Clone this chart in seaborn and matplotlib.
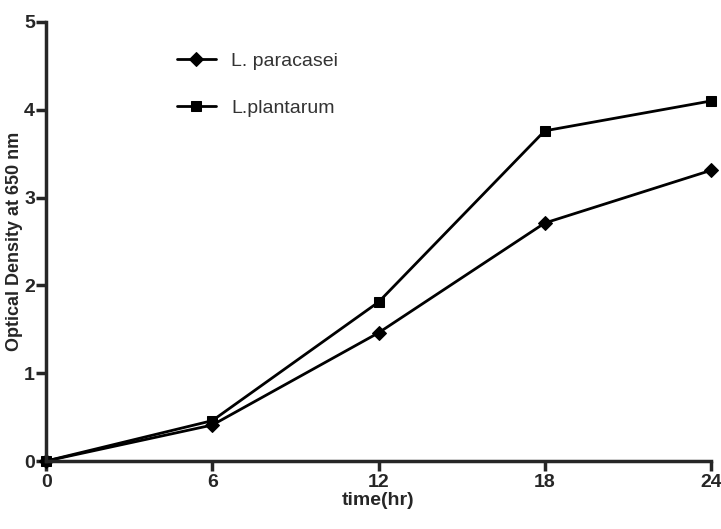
import pandas as pd
import seaborn as sns
import matplotlib.pyplot as plt

time_hr = [0, 6, 12, 18, 24]
paracasei = [0.0, 0.41, 1.46, 2.71, 3.31]
plantarum = [0.0, 0.46, 1.81, 3.76, 4.10]

df = pd.DataFrame({
    'time': time_hr * 2,
    'od': paracasei + plantarum,
    'strain': ['L. paracasei'] * 5 + ['L.plantarum'] * 5,
})

sns.set_style('ticks')
plt.rcParams['font.family'] = ['Liberation Sans', 'DejaVu Sans']

fig = plt.figure(figsize=(7.21, 5.29), dpi=100)
ax = fig.add_axes([0.064, 0.1285, 0.922, 0.83])

sns.lineplot(data=df, x='time', y='od', hue='strain', style='strain',
             palette=['black', 'black'], markers=['D', 's'], dashes=False,
             markersize=7.5, linewidth=2, markeredgecolor='black', ax=ax)

ax.set_xlim(0, 24)
ax.set_ylim(0, 5)
ax.set_xticks([0, 6, 12, 18, 24])
ax.set_yticks([0, 1, 2, 3, 4, 5])
ax.set_xlabel('time(hr)', fontsize=14, fontweight='bold', labelpad=1)
ax.set_ylabel('Optical Density at 650 nm', fontsize=13, fontweight='bold', labelpad=1)
for lab in ax.get_xticklabels() + ax.get_yticklabels():
    lab.set_fontweight('bold')
ax.tick_params(axis='both', width=2.5, length=7, labelsize=14, pad=2)
ax.tick_params(axis='y', pad=1)
sns.despine(ax=ax)
for s in ['left', 'bottom']:
    ax.spines[s].set_linewidth(2.5)
for line in ax.lines:
    line.set_clip_on(False)

leg = ax.legend(loc='upper left', bbox_to_anchor=(0.17, 0.97), frameon=False,
                fontsize=14, labelspacing=1.5, handlelength=2, handletextpad=0.8)
for t in leg.get_texts():
    t.set_color('#333333')

fig.savefig('out.png', dpi=100)
